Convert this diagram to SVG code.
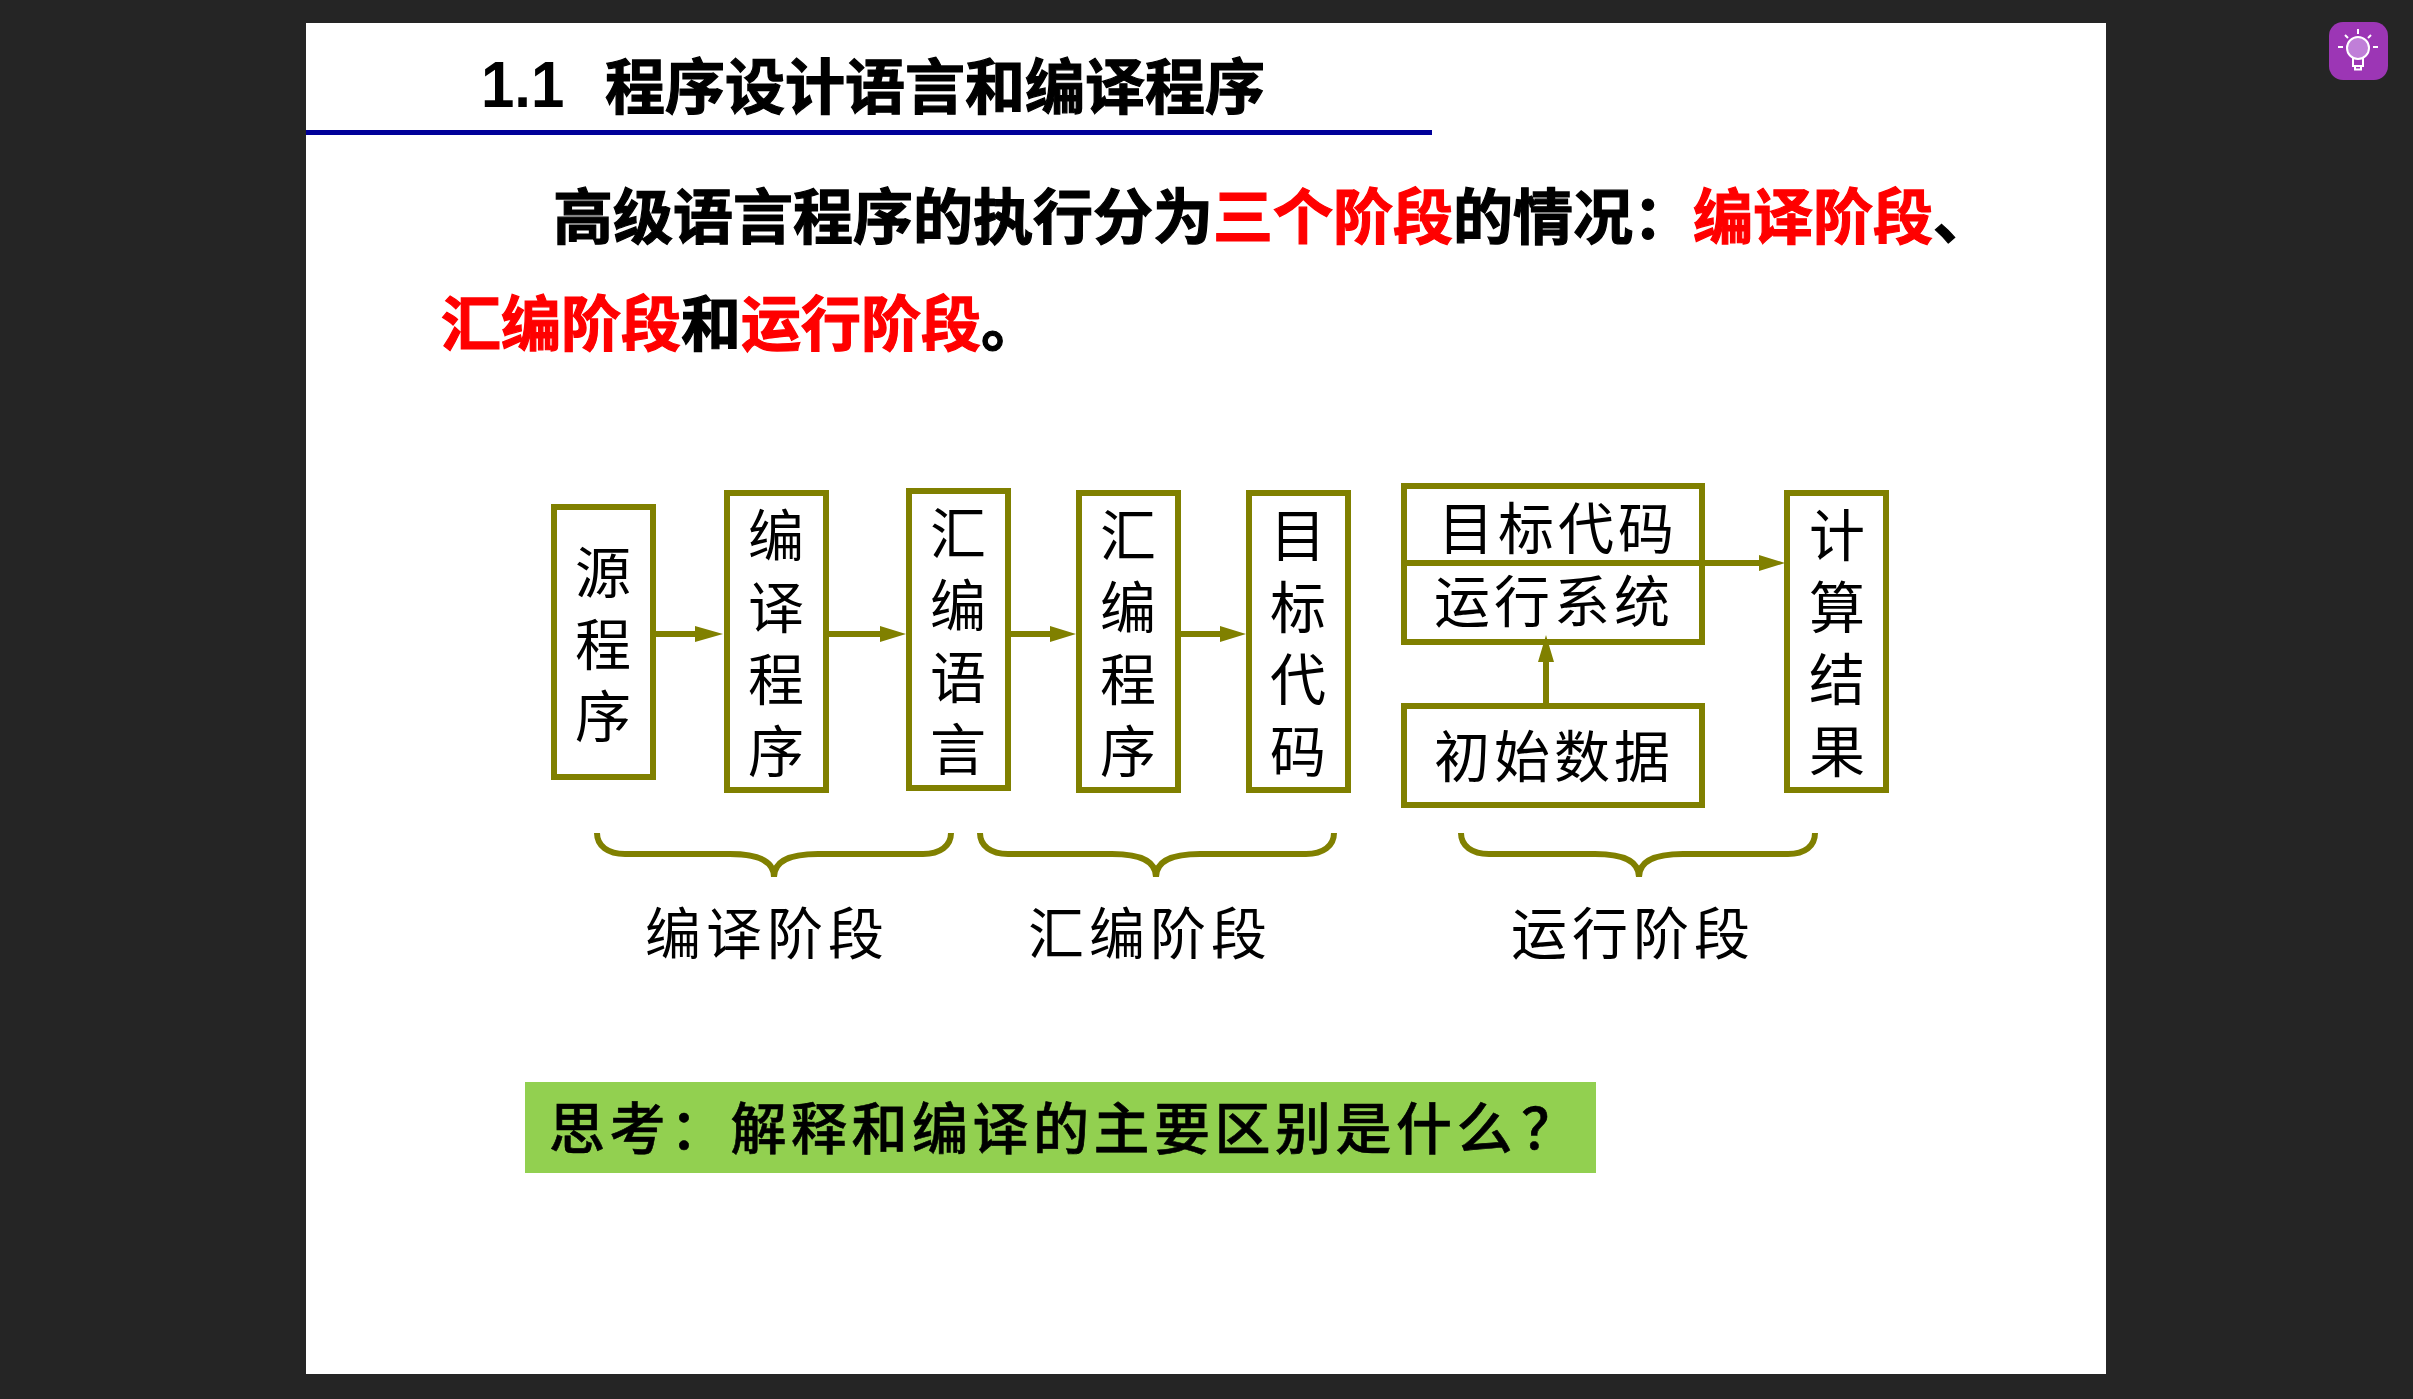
<svg xmlns="http://www.w3.org/2000/svg" width="2413" height="1399" viewBox="0 0 2413 1399">
<style>
.box{fill:#fff;stroke:#808000;stroke-width:6}
.ln{fill:none;stroke:#808000;stroke-width:6}
.ah{fill:#808000}
.t{font-family:"Noto Sans CJK SC","Liberation Serif",serif;font-size:56px;fill:#000;text-anchor:middle}
.v{font-family:"Noto Sans CJK SC","Liberation Serif",serif;font-size:56px;fill:#000;writing-mode:vertical-rl;letter-spacing:16px}
.h{font-family:"Noto Sans CJK SC","Liberation Sans",sans-serif;font-size:60px;font-weight:700;fill:#000;stroke:#000;stroke-width:1.2}
.r{fill:#f00;stroke:#f00}
</style>
<rect width="2413" height="1399" fill="#252525"/>
<rect id="slide" x="306" y="23" width="1800" height="1351" fill="#fff"/>
<g id="icon">
<rect x="2329" y="22" width="59" height="58" rx="14" fill="#9c36b5"/>
<circle cx="2358" cy="48" r="11" fill="#c07fd8" stroke="#fff" stroke-width="2"/>
<path d="M2353 58v8h10v-8M2355 66v3.500h6v-3.500M2358 29v5M2345 35l3 3M2371 35l-3 3M2338 47h5M2373 47h5" fill="none" stroke="#fff" stroke-width="2"/>
</g>
<g id="title">
<text transform="translate(481,107) scale(1,1.09)" font-family="'Liberation Sans',sans-serif" font-size="60" font-weight="700">1.1</text>
<text class="h" x="605" y="109">程序设计语言和编译程序</text>
<rect x="306" y="130" width="1126" height="5" fill="#000099"/>
</g>
<g id="intro">
<text class="h" x="553" y="239">高级语言程序的执行分为<tspan class="r">三个阶段</tspan>的情况：<tspan class="r">编译阶段</tspan>、</text>
<text class="h" x="441" y="346"><tspan class="r">汇编阶段</tspan>和<tspan class="r">运行阶段</tspan>。</text>
</g>
<g id="n1"><rect class="box" x="554" y="507" width="99" height="270"/><text class="v" x="603" y="544">源程序</text></g>
<g id="n2"><rect class="box" x="727" y="493" width="99" height="297"/><text class="v" x="776" y="507">编译程序</text></g>
<g id="n3"><rect class="box" x="909" y="491" width="99" height="297"/><text class="v" x="958" y="505">汇编语言</text></g>
<g id="n4"><rect class="box" x="1079" y="493" width="99" height="297"/><text class="v" x="1128" y="507">汇编程序</text></g>
<g id="n5"><rect class="box" x="1249" y="493" width="99" height="297"/><text class="v" x="1298" y="507">目标代码</text></g>
<g id="n6"><rect class="box" x="1404" y="486" width="298" height="156"/><path class="ln" d="M1404 563H1702"/><text class="t" x="1558" y="549" letter-spacing="4">目标代码</text><text class="t" x="1554" y="622" letter-spacing="4">运行系统</text></g>
<g id="n7"><rect class="box" x="1404" y="706" width="298" height="99"/><text class="t" x="1554" y="777" letter-spacing="4">初始数据</text></g>
<g id="n8"><rect class="box" x="1787" y="493" width="99" height="297"/><text class="v" x="1837" y="507">计算结果</text></g>
<g id="connectors">
<path class="ln" d="M656 634H700M828 634H884M1010 634H1054M1180 634H1224M1704 563H1763M1546 703V658"/>
<path class="ah" d="M695 626L723 634L695 642ZM880 626L906 634L880 642ZM1050 626L1076 634L1050 642ZM1220 626L1246 634L1220 642ZM1759 555L1785 563L1759 571ZM1538 662L1546 635L1554 662Z"/>
<path class="ln" d="M597 833C597 846 608 854 625 854H730C755 854 774 860 774 877C774 860 793 854 818 854H923C940 854 951 846 951 833"/>
<path class="ln" d="M980 833C980 846 991 854 1008 854H1112C1137 854 1156 860 1156 877C1156 860 1175 854 1200 854H1306C1323 854 1334 846 1334 833"/>
<path class="ln" d="M1461 833C1461 846 1472 854 1489 854H1595C1620 854 1639 860 1639 877C1639 860 1658 854 1683 854H1788C1805 854 1815 846 1815 833"/>
</g>
<g id="labels">
<text class="t" x="767" y="954" letter-spacing="5">编译阶段</text>
<text class="t" x="1150" y="954" letter-spacing="5">汇编阶段</text>
<text class="t" x="1633" y="954" letter-spacing="5">运行阶段</text>
</g>
<g id="question">
<rect x="525" y="1082" width="1071" height="91" fill="#92d050"/>
<text x="549" y="1149" font-family="'Noto Sans CJK SC','Liberation Serif',serif" font-size="56" font-weight="500" letter-spacing="4.500" stroke="#000" stroke-width="0.6">思考：解释和编译的主要区别是什么<tspan dx="4">？</tspan></text>
</g>
</svg>
